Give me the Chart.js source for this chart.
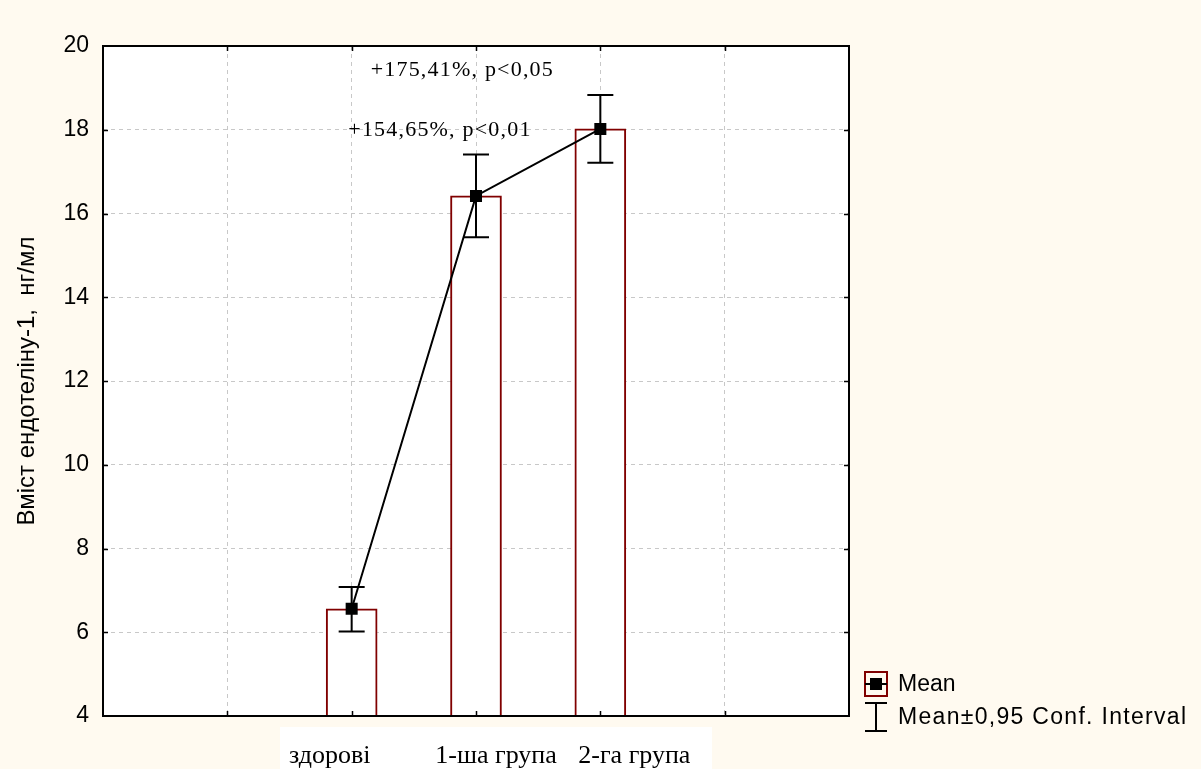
<!DOCTYPE html>
<html>
<head>
<meta charset="utf-8">
<script src="https://cdn.jsdelivr.net/npm/chart.js@4.4.1/dist/chart.umd.min.js"></script>
<style>
  html, body { margin: 0; padding: 0; background: #fffaf0; }
  #wrap { width: 1201px; height: 769px; position: relative; }
</style>
</head>
<body>
<div id="wrap"><canvas id="chart"></canvas></div>
<script>
// ── DATA ─────────────────────────────────────────────
// x axis has 7 slots (0..6); the three groups sit on slots 2, 3, 4
const SLOT_LABELS = ["", "", "здорові", "1-ша група", "2-га група", "", ""];
const MEANS       = [null, null, 6.56, 16.42, 18.02, null, null];
const CI_LOW      = [null, null, 6.02, 15.43, 17.21, null, null];
const CI_HIGH     = [null, null, 7.08, 17.41, 18.83, null, null];
const Y_MIN = 4, Y_MAX = 20, Y_STEP = 2;
const Y_TITLE = "Вміст ендотеліну-1,  нг/мл";
const ANNOTATIONS = ["+175,41%, p<0,05", "+154,65%, p<0,01"];
const LEGEND_LABELS = ["Mean", "Mean±0,95 Conf. Interval"];

const DARK_RED = "#800000";
const GRID = "#c8c8c8";

// helper: pixel for a fractional slot position
function slotX(xs, v) {
  const i = Math.floor(v);
  const a = xs.getPixelForValue(i), b = xs.getPixelForValue(i + 1);
  return a + (b - a) * (v - i);
}

// ── PLUGINS ──────────────────────────────────────────
const plotBg = {
  id: "plotBg",
  beforeDraw(chart) {
    const { ctx, chartArea: a } = chart;
    ctx.save();
    ctx.fillStyle = "#ffffff";
    ctx.fillRect(a.left, a.top, a.right - a.left, a.bottom - a.top);
    ctx.restore();
  },
};

const errorBars = {
  id: "errorBars",
  afterDatasetDraw(chart, args) {
    if (args.index !== 0) return;
    const { ctx, scales: { x, y } } = chart;
    ctx.save();
    ctx.strokeStyle = "#000";
    ctx.lineWidth = 2;
    MEANS.forEach((m, i) => {
      if (m == null) return;
      const px = x.getPixelForValue(i);
      const lo = y.getPixelForValue(CI_LOW[i]);
      const hi = y.getPixelForValue(CI_HIGH[i]);
      ctx.beginPath();
      ctx.moveTo(px, lo); ctx.lineTo(px, hi);
      ctx.moveTo(px - 13, lo); ctx.lineTo(px + 13, lo);
      ctx.moveTo(px - 13, hi); ctx.lineTo(px + 13, hi);
      ctx.stroke();
    });
    ctx.restore();
  },
};

const frame = {
  id: "frame",
  afterDraw(chart) {
    const { ctx, chartArea: a, scales: { x, y } } = chart;
    ctx.save();
    ctx.strokeStyle = "#000";
    ctx.lineWidth = 2;
    ctx.strokeRect(a.left, a.top, a.right - a.left, a.bottom - a.top);

    // inward ticks on all four sides
    ctx.lineWidth = 1.5;
    ctx.beginPath();
    for (let v = Y_MIN + Y_STEP; v < Y_MAX; v += Y_STEP) {
      const py = Math.round(y.getPixelForValue(v)) + 0.5;
      ctx.moveTo(a.left, py); ctx.lineTo(a.left + 5, py);
      ctx.moveTo(a.right, py); ctx.lineTo(a.right - 5, py);
    }
    for (let i = 1; i < SLOT_LABELS.length - 1; i++) {
      const px = Math.round(x.getPixelForValue(i)) + 0.5;
      ctx.moveTo(px, a.bottom); ctx.lineTo(px, a.bottom - 5);
      ctx.moveTo(px, a.top); ctx.lineTo(px, a.top + 5);
    }
    ctx.stroke();

    // category labels on a white strip (pasted text box look)
    ctx.fillStyle = "#ffffff";
    ctx.fillRect(280, a.bottom + 11, 432, 769 - a.bottom - 11);
    ctx.fillStyle = "#000";
    ctx.font = "26px 'Liberation Serif', 'Times New Roman', serif";
    ctx.textBaseline = "middle";
    ctx.textAlign = "center";
    const shifts = { 2: -22, 3: 20, 4: 34 };
    SLOT_LABELS.forEach((lab, i) => {
      if (!lab) return;
      ctx.fillText(lab, x.getPixelForValue(i) + shifts[i], a.bottom + 40);
    });

    // annotations
    ctx.font = "22px 'Liberation Serif', 'Times New Roman', serif";
    ctx.letterSpacing = "1.2px";
    ctx.fillText(ANNOTATIONS[0], slotX(x, 2.89), y.getPixelForValue(19.43));
    ctx.fillText(ANNOTATIONS[1], slotX(x, 2.71), y.getPixelForValue(18.0));
    ctx.letterSpacing = "0px";

    // legend
    const lx = a.right + 16, ly1 = 684, ly2 = 717;
    ctx.strokeStyle = DARK_RED;
    ctx.lineWidth = 2;
    ctx.strokeRect(lx, ly1 - 12, 22, 24);
    ctx.strokeStyle = "#000";
    ctx.beginPath();
    ctx.moveTo(lx, ly1); ctx.lineTo(lx + 22, ly1);
    ctx.stroke();
    ctx.fillStyle = "#000";
    ctx.fillRect(lx + 5, ly1 - 6, 12, 12);
    ctx.beginPath();
    ctx.moveTo(lx + 11, ly2 - 14); ctx.lineTo(lx + 11, ly2 + 14);
    ctx.moveTo(lx, ly2 - 14); ctx.lineTo(lx + 22, ly2 - 14);
    ctx.moveTo(lx, ly2 + 14); ctx.lineTo(lx + 22, ly2 + 14);
    ctx.stroke();
    ctx.font = "23px 'Liberation Sans', Arial, sans-serif";
    ctx.textAlign = "left";
    ctx.fillText(LEGEND_LABELS[0], lx + 33, ly1 + 1);
    ctx.letterSpacing = "1.3px";
    ctx.fillText(LEGEND_LABELS[1], lx + 33, ly2 + 1);
    ctx.restore();
  },
};

// ── CHART ────────────────────────────────────────────
new Chart(document.getElementById("chart"), {
  data: {
    labels: SLOT_LABELS,
    datasets: [
      {
        type: "bar",
        label: "Mean bar",
        data: MEANS,
        backgroundColor: "#ffffff",
        borderColor: DARK_RED,
        borderWidth: 2,
        borderSkipped: "bottom",
        barThickness: 51,
        order: 1,
      },
      {
        type: "line",
        label: "Mean",
        data: MEANS,
        borderColor: "#000",
        borderWidth: 2,
        pointStyle: "rect",
        pointRadius: 8.5,
        pointBackgroundColor: "#000",
        pointBorderColor: "#000",
        pointBorderWidth: 0,
        spanGaps: false,
        tension: 0,
        order: 0,
      },
    ],
  },
  options: {
    responsive: true,
    maintainAspectRatio: false,
    animation: false,
    layout: { padding: { left: 0, top: 46, right: 352, bottom: 53 } },
    plugins: {
      legend: { display: false },
      tooltip: { enabled: false },
    },
    scales: {
      x: {
        type: "category",
        offset: false,
        grid: { color: GRID, lineWidth: 1, drawTicks: false, offset: false },
        border: { display: false, dash: [4, 4] },
        ticks: { display: false },
        afterFit: s => { s.height = 0; },
      },
      y: {
        min: Y_MIN,
        max: Y_MAX,
        ticks: {
          stepSize: Y_STEP,
          padding: 14,
          color: "#000",
          font: { family: "'Liberation Sans', Arial, sans-serif", size: 23 },
        },
        grid: { color: GRID, lineWidth: 1, drawTicks: false },
        border: { display: false, dash: [4, 4] },
        title: {
          display: true,
          text: Y_TITLE,
          color: "#000",
          padding: { top: 13, bottom: 0 },
          font: { family: "'Liberation Sans', Arial, sans-serif", size: 24 },
        },
        afterFit: s => { s.width = 103; },
      },
    },
  },
  plugins: [plotBg, errorBars, frame],
});
</script>
</body>
</html>
